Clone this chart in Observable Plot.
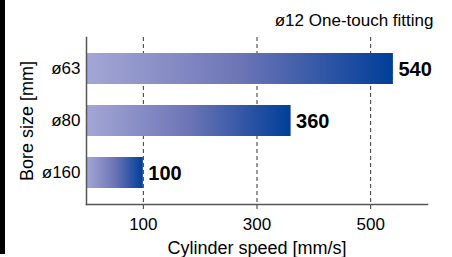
<!DOCTYPE html>
<html><head><meta charset="utf-8">
<script src="https://cdn.jsdelivr.net/npm/d3@7"></script>
<script src="https://cdn.jsdelivr.net/npm/@observablehq/plot@0.6"></script>
<style>
html,body{margin:0;padding:0;background:#fff;}
#wrap{position:relative;width:452px;height:257px;overflow:hidden;}
#edge{position:absolute;left:0;top:0;width:4.5px;height:254px;background:#000;}
#wrap svg{position:absolute;left:0;top:0;}
</style></head><body><div id="wrap"><div id="edge"></div></div>
<script>
const bores = ["ø63", "ø80", "ø160"];
const speeds = [540, 360, 100];
const xTicks = [100, 300, 500];
const titleText = "ø12 One-touch fitting";
const xLabel = "Cylinder speed [mm/s]";
const yLabel = "Bore size [mm]";

const data = bores.map((b, i) => ({bore: b, speed: speeds[i]}));
const font = "'Liberation Sans', Arial, Helvetica, sans-serif";

const chart = Plot.plot({
  width: 452, height: 257,
  marginTop: 37, marginBottom: 53, marginLeft: 86, marginRight: 25,
  style: {fontFamily: font, background: "transparent", color: "#000"},
  x: {domain: [0, 600]},
  y: {domain: bores, paddingInner: 0.4, paddingOuter: 0.28},
  marks: [
    Plot.ruleX(xTicks, {stroke: "#333", strokeDasharray: "4,3", strokeWidth: 1, insetBottom: -8}),
    Plot.barX(data, {x: "speed", y: "bore", fill: "url(#barGrad)"}),
    Plot.text(data, {x: "speed", y: "bore", text: d => String(d.speed), dx: 5, dy: 1, textAnchor: "start", lineAnchor: "middle", fontSize: 20, fontWeight: "bold", fill: "#000"}),
    Plot.frame({anchor: "left", stroke: "#555", strokeWidth: 1.5}),
    Plot.frame({anchor: "bottom", stroke: "#555", strokeWidth: 1.5}),
    Plot.axisX({ticks: xTicks, tickSize: 0, tickPadding: 13, fontSize: 17, label: null}),
    Plot.axisY({tickSize: 0, tickPadding: 6, fontSize: 17, label: null}),
    Plot.text([xLabel], {frameAnchor: "bottom", textAnchor: "middle", lineAnchor: "middle", dy: 44, fontSize: 18, fill: "#000"}),
    Plot.text([yLabel], {frameAnchor: "left", textAnchor: "middle", lineAnchor: "middle", rotate: -90, dx: -59, fontSize: 18, fill: "#000"}),
    Plot.text([titleText], {frameAnchor: "top-right", textAnchor: "end", lineAnchor: "middle", dx: 6, dy: -16.5, fontSize: 17, fill: "#000"})
  ]
});

const defs = d3.select(chart).insert("defs", ":first-child");
const grad = defs.append("linearGradient").attr("id", "barGrad")
  .attr("x1", "0").attr("x2", "1").attr("y1", "0").attr("y2", "0");
grad.append("stop").attr("offset", "0%").attr("stop-color", "#a4a7d5");
grad.append("stop").attr("offset", "50%").attr("stop-color", "#6d75b6");
grad.append("stop").attr("offset", "100%").attr("stop-color", "#003e99");

document.getElementById("wrap").appendChild(chart);
</script></body></html>
